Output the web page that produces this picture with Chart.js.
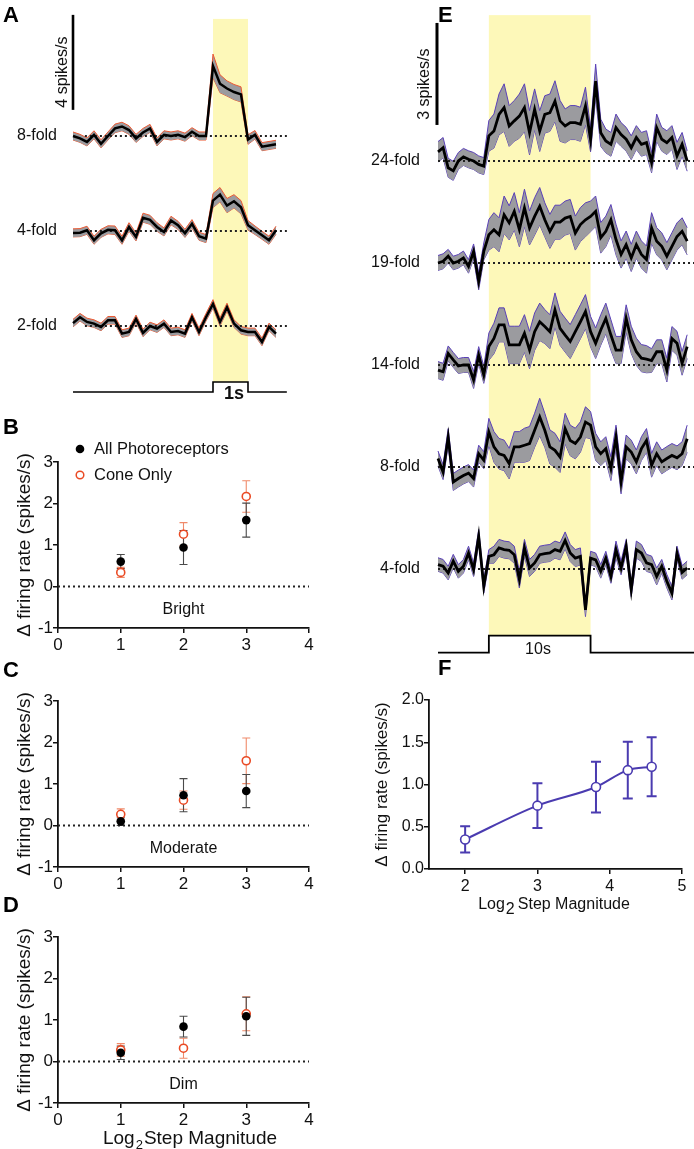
<!DOCTYPE html>
<html>
<head>
<meta charset="utf-8">
<script src="https://cdn.jsdelivr.net/npm/chart.js@4.4.0/dist/chart.umd.min.js"></script>
<style>
  body { margin: 0; background: #fff; }
  #page { position: relative; width: 694px; height: 1149px; overflow: hidden; font-family: Arial, "Liberation Sans", Helvetica, sans-serif; }
  canvas { position: absolute; }
  .panel { position: absolute; font-weight: bold; font-size: 22px; line-height: 22px; color: #000; z-index: 5; }
</style>
</head>
<body>
<div id="page">
  <canvas id="chartA" width="300" height="400" style="left:0;top:0"></canvas>
  <canvas id="chartE" width="334" height="670" style="left:360px;top:0"></canvas>
  <canvas id="chartB" width="320" height="258" style="left:0;top:400px"></canvas>
  <canvas id="chartC" width="320" height="258" style="left:0;top:639px"></canvas>
  <canvas id="chartD" width="320" height="274" style="left:0;top:875px"></canvas>
  <canvas id="chartF" width="320" height="269" style="left:370px;top:650px"></canvas>
  <div class="panel" style="left:3px;top:4px">A</div>
  <div class="panel" style="left:3px;top:416px">B</div>
  <div class="panel" style="left:3px;top:659px">C</div>
  <div class="panel" style="left:3px;top:894px">D</div>
  <div class="panel" style="left:438px;top:4px">E</div>
  <div class="panel" style="left:438px;top:657px">F</div>
</div>
<script>
// ---- panel A: 1 s steps, 0.2 s bins (spikes/s change from baseline) ----
const timeA = [-4.0, -3.8, -3.6, -3.4, -3.2, -3.0, -2.8, -2.6, -2.4, -2.2,
  -2.0, -1.8, -1.6, -1.4, -1.2, -1.0, -0.8, -0.6, -0.4, -0.2,
  0.0, 0.2, 0.4, 0.6, 0.8, 1.0, 1.2, 1.4, 1.6, 1.8];
const meanA8 = [0, -0.1, -0.25, 0.05, -0.33, 0, 0.32, 0.4, 0.25, -0.1,
  0.15, 0.32, -0.25, 0.05, 0, 0.05, -0.05, 0.18, 0, 0,
  2.95, 2.2, 2.0, 1.85, 1.75, -0.15, 0.05, -0.45, -0.4, -0.35];
const semA8 = [0.17, 0.17, 0.17, 0.17, 0.17, 0.17, 0.18, 0.18, 0.18, 0.17,
  0.17, 0.17, 0.17, 0.17, 0.17, 0.17, 0.17, 0.17, 0.17, 0.17,
  0.5, 0.38, 0.32, 0.32, 0.32, 0.2, 0.18, 0.17, 0.17, 0.17];
const meanA4 = [-0.08, -0.07, 0.03, -0.39, -0.1, 0.05, 0.03, -0.39, 0.17, -0.25,
  0.56, 0.47, 0.17, -0.04, 0.44, 0.24, -0.1, 0.3, -0.22, -0.32,
  1.28, 1.53, 1.07, 1.25, 1.0, 0.24, 0.03, -0.18, -0.39, 0.03];
const semA4 = [0.17, 0.17, 0.17, 0.17, 0.17, 0.17, 0.18, 0.17, 0.18, 0.17,
  0.19, 0.19, 0.18, 0.17, 0.18, 0.17, 0.17, 0.18, 0.17, 0.17,
  0.3, 0.3, 0.3, 0.28, 0.28, 0.2, 0.18, 0.17, 0.17, 0.17];
const meanA2 = [0.12, 0.37, 0.17, 0.1, -0.04, 0.24, 0.24, -0.32, -0.25, 0.3,
  -0.29, 0, -0.11, 0.1, -0.25, -0.21, -0.32, 0.37, -0.25, 0.37,
  0.93, 0.17, 0.79, 0.1, -0.18, -0.25, -0.25, -0.67, -0.04, -0.32];
const semA2 = [0.16, 0.16, 0.16, 0.16, 0.16, 0.16, 0.16, 0.16, 0.16, 0.16,
  0.16, 0.16, 0.16, 0.16, 0.16, 0.16, 0.16, 0.16, 0.16, 0.16,
  0.18, 0.17, 0.17, 0.16, 0.16, 0.16, 0.16, 0.16, 0.16, 0.16];
const stepOnA = 0, stepOffA = 1;

// ---- panel E: 10 s steps, 0.5 s bins ----
const timeE = [-5, -4.5, -4, -3.5, -3, -2.5, -2, -1.5, -1, -0.5,
  0, 0.5, 1, 1.5, 2, 2.5, 3, 3.5, 4, 4.5,
  5, 5.5, 6, 6.5, 7, 7.5, 8, 8.5, 9, 9.5,
  10, 10.5, 11, 11.5, 12, 12.5, 13, 13.5, 14, 14.5,
  15, 15.5, 16, 16.5, 17, 17.5, 18, 18.5, 19, 19.5];
const meanE24 = [0.27, 0.39, -0.2, -0.29, 0, 0.12, 0.05, 0, -0.1, -0.15,
  0.74, 0.88, 1.37, 1.57, 1.03, 1.18, 1.32, 1.57, 0.83, 1.52,
  0.88, 1.37, 1.42, 1.76, 1.18, 1.03, 1.13, 1.13, 1.08, 1.62,
  0.62, 2.35, 0.83, 0.59, 0.49, 0.98, 0.78, 0.64, 0.39, 0.69,
  0.49, 0.54, -0.05, 0.98, 0.64, 0.54, 0.69, 0.15, 0.49, 0];
const semE24 = [0.3, 0.3, 0.28, 0.28, 0.25, 0.25, 0.25, 0.25, 0.25, 0.25,
  0.45, 0.5, 0.6, 0.7, 0.6, 0.6, 0.65, 0.7, 0.65, 0.6,
  0.6, 0.55, 0.55, 0.6, 0.6, 0.5, 0.5, 0.5, 0.5, 0.55,
  0.35, 0.5, 0.4, 0.35, 0.35, 0.4, 0.35, 0.35, 0.35, 0.35,
  0.35, 0.35, 0.3, 0.4, 0.35, 0.35, 0.35, 0.4, 0.35, 0.3];
const meanE19 = [0, 0.05, 0.2, 0, 0.05, 0.15, -0.1, 0.34, -0.54, 0.34,
  0.83, 0.98, 0.83, 1.42, 1.18, 1.52, 0.98, 1.62, 1.03, 1.37,
  1.67, 1.27, 0.93, 1.2, 1.2, 1.32, 1.37, 0.88, 1.13, 1.27,
  1.37, 1.52, 0.74, 0.93, 1.27, 0.69, 0.25, 0.54, 0.15, 0.54,
  0.25, 0.1, 1.03, 0.64, 0.49, 0.2, 0.49, 0.78, 0.93, 0.64];
const semE19 = [0.22, 0.22, 0.2, 0.2, 0.2, 0.2, 0.2, 0.22, 0.25, 0.25,
  0.45, 0.5, 0.5, 0.55, 0.5, 0.55, 0.5, 0.55, 0.5, 0.55,
  0.55, 0.5, 0.5, 0.5, 0.5, 0.5, 0.5, 0.5, 0.5, 0.5,
  0.45, 0.45, 0.45, 0.45, 0.45, 0.45, 0.4, 0.4, 0.4, 0.4,
  0.4, 0.4, 0.45, 0.4, 0.4, 0.4, 0.4, 0.4, 0.4, 0.4];
const meanE14 = [-0.15, -0.2, 0.34, 0.15, -0.03, 0, 0, -0.44, 0.29, -0.29,
  0.54, 0.78, 1.18, 1.18, 0.59, 0.59, 0.59, 0.93, 0.44, 0.98,
  1.27, 1.13, 0.98, 1.62, 1.08, 0.88, 0.69, 0.98, 1.27, 1.57,
  0.98, 0.64, 1.03, 1.37, 0.88, 0.44, 0.44, 1.37, 0.74, 0.39,
  0.2, 0.17, 0.13, 0.39, 0.39, -0.15, 0.78, 0.64, 0.05, 0.54];
const semE14 = [0.25, 0.25, 0.22, 0.22, 0.22, 0.22, 0.22, 0.25, 0.25, 0.25,
  0.4, 0.45, 0.5, 0.5, 0.55, 0.55, 0.55, 0.55, 0.55, 0.55,
  0.55, 0.5, 0.5, 0.5, 0.5, 0.5, 0.5, 0.5, 0.5, 0.5,
  0.45, 0.45, 0.45, 0.45, 0.45, 0.4, 0.4, 0.4, 0.4, 0.4,
  0.4, 0.4, 0.35, 0.35, 0.35, 0.35, 0.35, 0.35, 0.35, 0.35];
const meanE8 = [0.25, -0.15, 0.88, -0.44, -0.34, -0.25, -0.18, -0.34, 0.39, 0.2,
  1.03, 0.59, 0.39, 0.34, 0.1, 0.59, 0.59, 0.64, 0.69, 1.08,
  1.47, 1.08, 0.59, 0.49, 0.29, 1.13, 0.78, 0.69, 0.88, 1.32,
  1.23, 0.59, 0.39, 0.54, -0.05, 0.88, -0.44, 0.59, 0.44, 0.15,
  0.54, 0.78, 0.05, 0.39, 0.15, 0.25, 0.34, 0.27, 0.39, 0.83];
const semE8 = [0.22, 0.22, 0.25, 0.25, 0.25, 0.25, 0.25, 0.25, 0.25, 0.25,
  0.4, 0.45, 0.45, 0.45, 0.45, 0.45, 0.45, 0.5, 0.5, 0.5,
  0.55, 0.5, 0.5, 0.5, 0.45, 0.45, 0.45, 0.45, 0.45, 0.45,
  0.4, 0.4, 0.35, 0.35, 0.35, 0.35, 0.35, 0.35, 0.35, 0.35,
  0.35, 0.35, 0.35, 0.35, 0.35, 0.35, 0.35, 0.35, 0.35, 0.4];
const meanE4 = [0.13, 0.08, -0.12, 0.23, -0.07, 0.08, 0.47, -0.02, 0.96, -0.51,
  0.37, 0.42, 0.62, 0.57, 0.55, 0.42, -0.31, 0.62, 0.03, 0.18,
  0.42, 0.45, 0.47, 0.57, 0.52, 0.84, 0.47, 0.32, 0.37, -1.2,
  0.32, 0.27, -0.07, 0.32, -0.22, 0.57, 0.03, 0.67, -0.61, 0.57,
  0.47, 0.18, 0.13, -0.22, 0.08, -0.36, -0.71, 0.47, -0.1, 0.03];
const semE4 = [0.2, 0.2, 0.2, 0.2, 0.2, 0.2, 0.2, 0.2, 0.2, 0.2,
  0.2, 0.25, 0.25, 0.25, 0.25, 0.25, 0.25, 0.25, 0.25, 0.25,
  0.25, 0.25, 0.25, 0.25, 0.25, 0.25, 0.25, 0.25, 0.25, 0.2,
  0.2, 0.2, 0.2, 0.2, 0.2, 0.25, 0.2, 0.2, 0.2, 0.25,
  0.25, 0.25, 0.25, 0.25, 0.2, 0.2, 0.2, 0.2, 0.2, 0.2];
const stepOnE = 0, stepOffE = 10;

// ---- panels B-D: response vs log2 step magnitude ----
const stepLog2 = [1, 2, 3];
const brightAll = [0.6, 0.94, 1.6],     brightAllErr = [0.17, 0.41, 0.41];
const brightCone = [0.34, 1.26, 2.17],  brightConeErr = [0.12, 0.28, 0.38];
const moderateAll = [0.1, 0.73, 0.83],  moderateAllErr = [0.1, 0.4, 0.4];
const moderateCone = [0.27, 0.61, 1.56], moderateConeErr = [0.13, 0.22, 0.55];
const dimAll = [0.21, 0.84, 1.09],      dimAllErr = [0.16, 0.25, 0.46];
const dimCone = [0.28, 0.32, 1.15],     dimConeErr = [0.15, 0.24, 0.41];

// ---- panel F ----
const stepLog2F = [2, 3, 3.81, 4.25, 4.58];
const meanF = [0.35, 0.75, 0.97, 1.17, 1.21];
const errF = [0.155, 0.265, 0.3, 0.335, 0.35];

const FONT = 'Arial, "Liberation Sans", Helvetica, sans-serif';
const BAND_GREY = '#9b9b9f';
const YELLOW = '#fdf8b9';
const RED_EDGE = '#ee5a33';
const PURPLE_EDGE = '#5a40b8';
const PURPLE = '#4a3bb0';
const ORANGE = '#ea4a24';
const INK = '#111';

Chart.defaults.font.family = FONT;
Chart.defaults.color = INK;

// yellow stimulus window
const stimBand = {
  id: 'stimBand',
  beforeDatasetsDraw(chart, args, opts) {
    if (opts.t0 === undefined) return;
    const { ctx, scales: { x, y } } = chart;
    const x0 = x.getPixelForValue(opts.t0), x1 = x.getPixelForValue(opts.t1);
    const y0 = y.getPixelForValue(opts.top), y1 = y.getPixelForValue(opts.bottom);
    ctx.save();
    ctx.fillStyle = YELLOW;
    ctx.fillRect(x0, y0, x1 - x0, y1 - y0);
    ctx.restore();
  }
};

// text placed at data coordinates
const textMarks = {
  id: 'textMarks',
  afterDatasetsDraw(chart, args, opts) {
    const { ctx, scales: { x, y } } = chart;
    (opts.items || []).forEach(it => {
      ctx.save();
      ctx.font = it.font;
      ctx.fillStyle = it.color || INK;
      ctx.textAlign = it.align || 'center';
      ctx.textBaseline = 'middle';
      ctx.translate(x.getPixelForValue(it.x) + (it.dx || 0), y.getPixelForValue(it.y) + (it.dy || 0));
      if (it.rotate) ctx.rotate(it.rotate);
      ctx.fillText(it.text, 0, 0);
      ctx.restore();
    });
  }
};

// vertical error bars with caps
const errorBars = {
  id: 'errorBars',
  beforeDatasetsDraw(chart) {
    const { ctx, scales: { x, y } } = chart;
    chart.data.datasets.forEach(ds => {
      if (!ds.errors) return;
      ctx.save();
      ctx.strokeStyle = ds.errorColor;
      ctx.lineWidth = ds.errorWidth || 1;
      ds.data.forEach((p, i) => {
        const px = x.getPixelForValue(p.x);
        const top = y.getPixelForValue(p.y + ds.errors[i]);
        const bot = y.getPixelForValue(p.y - ds.errors[i]);
        const c = ds.capWidth || 4;
        ctx.beginPath();
        ctx.moveTo(px, top); ctx.lineTo(px, bot);
        ctx.moveTo(px - c, top); ctx.lineTo(px + c, top);
        ctx.moveTo(px - c, bot); ctx.lineTo(px + c, bot);
        ctx.stroke();
      });
      ctx.restore();
    });
  }
};

// x title with a subscript 2, drawn under the axis
const log2Title = {
  id: 'log2Title',
  afterDraw(chart, args, opts) {
    if (!opts.size) return;
    const ctx = chart.ctx;
    const big = opts.size + 'px ' + FONT, small = opts.subSize + 'px ' + FONT;
    ctx.save();
    ctx.fillStyle = INK;
    ctx.textBaseline = 'alphabetic';
    ctx.font = big;
    const w1 = ctx.measureText('Log').width;
    const w3 = ctx.measureText(opts.rest).width;
    ctx.font = small;
    const w2 = ctx.measureText('2').width + opts.gap;
    let x = opts.cx - (w1 + w2 + w3) / 2;
    ctx.textAlign = 'left';
    ctx.font = big;
    ctx.fillText('Log', x, opts.baseline);
    ctx.font = small;
    ctx.fillText('2', x + w1 + 1, opts.baseline + opts.drop);
    ctx.font = big;
    ctx.fillText(opts.rest, x + w1 + w2, opts.baseline);
    ctx.restore();
  }
};

function pts(times, vals, offset) {
  return times.map((t, i) => ({ x: t, y: offset + vals[i] }));
}

function traceDatasets(times, mean, sem, offset, edge, meanWidth) {
  return [
    { data: times.map((t, i) => ({ x: t, y: offset + mean[i] + sem[i] })),
      borderColor: edge, borderWidth: 1, backgroundColor: BAND_GREY, fill: '+1', order: 3 },
    { data: times.map((t, i) => ({ x: t, y: offset + mean[i] - sem[i] })),
      borderColor: edge, borderWidth: 1, fill: false, order: 3 },
    { data: pts(times, mean, offset), borderColor: '#000', borderWidth: meanWidth, fill: false, order: 1 }
  ];
}

function dottedLine(t0, t1, y) {
  return { data: [{ x: t0, y: y }, { x: t1, y: y }], borderColor: '#222', borderWidth: 1.8,
    borderDash: [2, 3], fill: false, order: 2 };
}

function plainLine(points, width) {
  return { data: points, borderColor: '#000', borderWidth: width, fill: false, order: 0 };
}

function traceOptions(xr, yr, band, items) {
  return {
    responsive: false, animation: false, events: [],
    layout: { padding: 0 },
    elements: { point: { radius: 0 }, line: { tension: 0 } },
    plugins: { legend: { display: false }, tooltip: { enabled: false }, stimBand: band, textMarks: { items: items } },
    scales: {
      x: { type: 'linear', display: false, min: xr[0], max: xr[1] },
      y: { type: 'linear', display: false, min: yr[0], max: yr[1] }
    }
  };
}

// ---------- panel A ----------
(function () {
  const traces = [
    { label: '8-fold', mean: meanA8, sem: semA8, offset: 8 },
    { label: '4-fold', mean: meanA4, sem: semA4, offset: 4 },
    { label: '2-fold', mean: meanA2, sem: semA2, offset: 0 }
  ];
  const lo = -2.78, hi = -2.36;
  const t0 = timeA[0], tEnd = 2.11;
  let datasets = [];
  traces.forEach(tr => {
    datasets = datasets.concat(traceDatasets(timeA, tr.mean, tr.sem, tr.offset, RED_EDGE, 2.5));
    datasets.push(dottedLine(-3.66, tEnd, tr.offset));
  });
  datasets.push(plainLine([{ x: t0, y: 9.1 }, { x: t0, y: 13.1 }], 2.6));
  datasets.push(plainLine([{ x: t0, y: lo }, { x: stepOnA, y: lo }, { x: stepOnA, y: hi },
    { x: stepOffA, y: hi }, { x: stepOffA, y: lo }, { x: tEnd, y: lo }], 1.6));
  const items = traces.map(tr => ({ text: tr.label, x: t0, dx: -16, y: tr.offset, align: 'right', font: '16px ' + FONT }));
  items.push({ text: '4 spikes/s', x: t0, dx: -10, y: 10.69, rotate: -Math.PI / 2, font: '16px ' + FONT });
  items.push({ text: '1s', x: 0.6, y: -2.86, font: 'bold 18px ' + FONT });
  new Chart(document.getElementById('chartA'), {
    type: 'line',
    data: { datasets: datasets },
    options: traceOptions([-6.086, 2.486], [-3.116, 13.726],
      { t0: stepOnA, t1: stepOffA, top: 12.93, bottom: hi }, items),
    plugins: [stimBand, textMarks]
  });
})();

// ---------- panel E ----------
(function () {
  const traces = [
    { label: '24-fold', mean: meanE24, sem: semE24, offset: 12 },
    { label: '19-fold', mean: meanE19, sem: semE19, offset: 9 },
    { label: '14-fold', mean: meanE14, sem: semE14, offset: 6 },
    { label: '8-fold', mean: meanE8, sem: semE8, offset: 3 },
    { label: '4-fold', mean: meanE4, sem: semE4, offset: 0 }
  ];
  const lo = -2.46, hi = -1.96;
  const t0 = timeE[0], tEnd = 20.17;
  let datasets = [];
  traces.forEach(tr => {
    datasets = datasets.concat(traceDatasets(timeE, tr.mean, tr.sem, tr.offset, PURPLE_EDGE, 2.8));
    datasets.push(dottedLine(t0, tEnd, tr.offset));
  });
  datasets.push(plainLine([{ x: -5.1, y: 13.06 }, { x: -5.1, y: 16.06 }], 3));
  datasets.push(plainLine([{ x: t0, y: lo }, { x: stepOnE, y: lo }, { x: stepOnE, y: hi },
    { x: stepOffE, y: hi }, { x: stepOffE, y: lo }, { x: tEnd, y: lo }], 1.8));
  const items = traces.map(tr => ({ text: tr.label, x: t0, dx: -18, y: tr.offset, align: 'right', font: '16px ' + FONT }));
  items.push({ text: '3 spikes/s', x: t0, dx: -13, y: 14.26, rotate: -Math.PI / 2, font: '16px ' + FONT });
  items.push({ text: '10s', x: 4.83, y: -2.38, font: '16px ' + FONT });
  new Chart(document.getElementById('chartE'), {
    type: 'line',
    data: { datasets: datasets },
    options: traceOptions([-12.67, 20.17], [-2.971, 16.735],
      { t0: stepOnE, t1: stepOffE, top: 16.29, bottom: hi }, items),
    plugins: [stimBand, textMarks]
  });
})();

// ---------- panels B, C, D ----------
function axisStyle(size) {
  return {
    grid: { drawOnChartArea: false, drawTicks: true, tickLength: 5, color: INK, lineWidth: 1.5 },
    border: { display: true, color: INK, width: 1.8 },
    ticks: { font: { size: size }, color: INK, padding: 1 }
  };
}

function magnitudeChart(id, allV, allE, coneV, coneE, condition, extra) {
  const xs = axisStyle(17), ys = axisStyle(17);
  xs.ticks.stepSize = 1; xs.ticks.padding = 2;
  ys.ticks.stepSize = 1; ys.ticks.padding = 0;
  const legendPlugin = {
    id: 'legendMarks',
    afterDraw(chart) {
      if (!extra.legend) return;
      const ctx = chart.ctx;
      ctx.save();
      ctx.fillStyle = '#000';
      ctx.beginPath(); ctx.arc(80, 49, 4.3, 0, Math.PI * 2); ctx.fill();
      ctx.strokeStyle = ORANGE; ctx.lineWidth = 1.5;
      ctx.beginPath(); ctx.arc(80, 75, 3.8, 0, Math.PI * 2); ctx.stroke();
      ctx.fillStyle = INK; ctx.font = '16.5px ' + FONT; ctx.textBaseline = 'middle'; ctx.textAlign = 'left';
      ctx.fillText('All Photoreceptors', 94, 49);
      ctx.fillText('Cone Only', 94, 75);
      ctx.restore();
    }
  };
  new Chart(document.getElementById(id), {
    type: 'scatter',
    data: {
      datasets: [
        { data: [{ x: 0, y: 0 }, { x: 4, y: 0 }], showLine: true, borderColor: '#222', borderWidth: 1.8,
          borderDash: [2, 3], pointRadius: 0, order: 3 },
        { data: stepLog2.map((v, i) => ({ x: v, y: coneV[i] })), pointRadius: 4, borderWidth: 1.6,
          borderColor: ORANGE, backgroundColor: '#fff', errors: coneE, errorColor: '#f08a6a', errorWidth: 1.1, order: 2 },
        { data: stepLog2.map((v, i) => ({ x: v, y: allV[i] })), pointRadius: 4.3, borderWidth: 0,
          backgroundColor: '#000', errors: allE, errorColor: '#4a4a4a', errorWidth: 1.1, order: 1 }
      ]
    },
    options: {
      responsive: false, animation: false, events: [],
      layout: { padding: { top: 62, right: 11, left: 0, bottom: 0 } },
      plugins: {
        legend: { display: false }, tooltip: { enabled: false },
        textMarks: { items: [{ text: condition, x: 2, y: -0.55, font: '16px ' + FONT }] },
        log2Title: extra.xTitle || {}
      },
      scales: {
        x: Object.assign(xs, { type: 'linear', min: 0, max: 4, afterFit(s) { s.height = extra.xh; } }),
        y: Object.assign(ys, { type: 'linear', min: -1, max: 3, afterFit(s) { s.width = 58; },
          title: { display: true, text: '\u0394 firing rate (spikes/s)', font: { size: 19 }, color: INK,
            padding: { top: 13, bottom: 0 } } })
      }
    },
    plugins: [errorBars, textMarks, legendPlugin, log2Title]
  });
}

magnitudeChart('chartB', brightAll, brightAllErr, brightCone, brightConeErr, 'Bright', { legend: true, xh: 30 });
magnitudeChart('chartC', moderateAll, moderateAllErr, moderateCone, moderateConeErr, 'Moderate', { xh: 30 });
magnitudeChart('chartD', dimAll, dimAllErr, dimCone, dimConeErr, 'Dim',
  { xh: 46, xTitle: { size: 19, subSize: 13, drop: 5, gap: 2, cx: 190, baseline: 269, rest: 'Step Magnitude' } });

// ---------- panel F ----------
(function () {
  const xs = axisStyle(16), ys = axisStyle(16);
  xs.ticks.padding = 3;
  ys.ticks.padding = 0; ys.ticks.stepSize = 0.5;
  ys.ticks.callback = v => v.toFixed(1);
  new Chart(document.getElementById('chartF'), {
    type: 'scatter',
    data: {
      datasets: [
        { data: stepLog2F.map((v, i) => ({ x: v, y: meanF[i] })), showLine: true,
          cubicInterpolationMode: 'monotone', borderColor: PURPLE, borderWidth: 2,
          pointRadius: 4.5, pointBorderWidth: 1.6, pointBorderColor: PURPLE, pointBackgroundColor: '#fff',
          errors: errF, errorColor: PURPLE, errorWidth: 2, capWidth: 5 }
      ]
    },
    options: {
      responsive: false, animation: false, events: [],
      layout: { padding: { top: 50, right: 8, left: 0, bottom: 0 } },
      plugins: {
        legend: { display: false }, tooltip: { enabled: false },
        log2Title: { size: 16, subSize: 16, drop: 5, gap: 4, cx: 184, baseline: 259, rest: 'Step Magnitude' }
      },
      scales: {
        x: Object.assign(xs, { type: 'linear', min: 1.5, max: 5, afterFit(s) { s.height = 50; },
          afterBuildTicks(s) { s.ticks = [2, 3, 4, 5].map(v => ({ value: v })); } }),
        y: Object.assign(ys, { type: 'linear', min: 0, max: 2, afterFit(s) { s.width = 59; },
          title: { display: true, text: '\u0394 firing rate (spikes/s)', font: { size: 17 }, color: INK,
            padding: { top: 2, bottom: 0 } } })
      }
    },
    plugins: [errorBars, log2Title]
  });
})();
</script>
</body>
</html>
